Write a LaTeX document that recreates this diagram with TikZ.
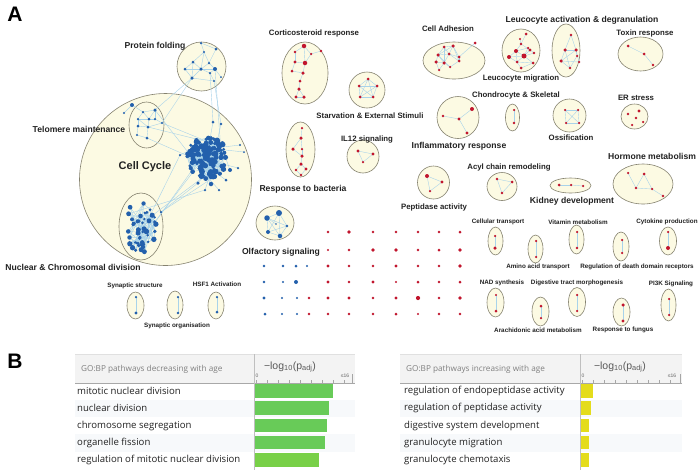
\documentclass[tikz,border=0pt]{standalone}
\usepackage{fontspec}
\setmainfont{Liberation Sans}
\newfontfamily\tabfont{Open Sans}
\usetikzlibrary{shapes.geometric}
\definecolor{cream}{HTML}{FCFAE3}
\definecolor{rim}{HTML}{85826F}
\definecolor{netblue}{HTML}{2360AC}
\definecolor{netred}{HTML}{C1152D}
\definecolor{link}{HTML}{A8D3EA}
\definecolor{ink}{HTML}{222222}
\definecolor{barg}{HTML}{68CB58}
\definecolor{barlg}{HTML}{78D048}
\definecolor{bary}{HTML}{E4DC1C}
\definecolor{headbg}{HTML}{F3F3F3}
\definecolor{headline}{HTML}{A8A8A8}
\definecolor{headtxt}{HTML}{808080}
\definecolor{rowbg}{HTML}{F7F9FB}
\pgfdeclarelayer{back}
\pgfdeclarelayer{mid}
\pgfsetlayers{back,mid,main}

\begin{document}
\begin{tikzpicture}[x=1pt,y=-1pt,every node/.style={text=ink,inner sep=0pt},
    grp/.style={ellipse,draw=rim,fill=cream,line width=.6pt},
    bd/.style={circle,fill=netblue,minimum size=#1},bd/.default=3,
    rd/.style={circle,fill=netred,minimum size=#1},rd/.default=3,
    lnk/.style={draw=link,line width=.4pt},
    tcc/.style={font=\fontsize{11}{13}\selectfont\bfseries},
    tbig/.style={font=\fontsize{8.6}{10}\selectfont\bfseries},
    tmid/.style={font=\fontsize{7.8}{9}\selectfont\bfseries},
    tsm/.style={font=\fontsize{6.3}{7}\selectfont\bfseries},
    rowtxt/.style={anchor=west,font=\tabfont\fontsize{9.6}{11}\selectfont},
    headtext/.style={anchor=west,text=headtxt,font=\tabfont\fontsize{8.2}{10}\selectfont},
    logtext/.style={text=black!65,font=\fontsize{10.5}{12}\selectfont},
    ticktext/.style={text=black!60,font=\fontsize{5}{6}\selectfont},
    tick/.style={draw=black!35,line width=.4pt}]
\useasboundingbox (0,0) rectangle (700,475);

% panel letters
\node[font=\fontsize{21}{24}\selectfont\bfseries,text=black] (panA) at (15,14) {A};
\node[font=\fontsize{21}{24}\selectfont\bfseries,text=black] (panB) at (15,361) {B};

% ---- cluster outlines
\begin{pgfonlayer}{back}
\fill[white] (0,0) rectangle (700,475);
\foreach \n/\x/\y/\w/\h in {cc/165.5/179.5/172/172, telo/146.5/125/35/46, nucl/141/226.5/44/67,
    pfold/201.5/66.5/49/49, olf/275/223/38/34, cort/305/73/46/62, bact/300.5/149.5/29/55,
    starv/367/90/36/36, il12/363/156.5/32/33, adh/454/60.5/62/37, lmig/521/50.5/38/43,
    lact/566/50.5/28/53, toxin/640.5/54/45/34, chon/512.5/117.5/14/27, infl/458/117.5/42/42,
    ossi/569.5/115.5/33/33, ers/634.5/116.5/27/25, pept/433.5/182.5/32/33, acyl/502/186.5/30/28,
    kid/570.5/185.5/41/15, horm/643/184/60/40, ctra/495.5/241/15/28, amino/535.5/249/15/28,
    vita/576.5/239.5/15/29, death/621/246.5/16/29, cyto/668/241/17/28, nad/495.5/302.5/17/29,
    dige/577/302/17/29, pik/668.5/305/15/32, arach/540.5/311.5/17/29, fung/621.5/312/17/28,
    synst/135.5/305.5/17/27, synorg/175/305/16/28, hsf/216/305.5/16/27}
  \node[grp,minimum width=\w pt,minimum height=\h pt] (\n) at (\x,\y) {};
\end{pgfonlayer}

% ---- blue networks
\foreach \n/\x/\y/\s in {p1/201/43/2.5, p2/216/49/3, p3/193/62/3, p4/204/52/2.2, p5/209/63/2.5,
    p6/185/69/3, p7/201/69/3.5, p8/215/69/4, p9/192/78/3.5, p10/210/73/2.5, p11/214/81/2.2, p12/221/77/2,
    t1/132/105/4, t2/124/113/2.2, t3/143/112/2.5, t4/155/110/3.5, t5/138/119/2.5, t6/149/119/3,
    t7/155/119/2.5, t8/138/126/3, t9/148/127/3, t10/162/123/2.2, t11/137/135/2.2, t12/147/138/3,
    ol1/267/218/5.5, ol2/279/213/6, ol3/287/226/2.8, ol4/268/232/4, ol5/280/236/4.5, ol6/276/224/1.8,
    co1/180/155/2.5, co2/240/145/2.2, co3/244/152/2, co4/213/122/3, co5/221/124/2.8, co6/198/183/3.5,
    co7/205/190/2.5, co8/211/184/4.5, co9/226/180/3, co10/230/170/4, co11/238/168/2.5, co12/219/190/2.5,
    nh1/161/212/2.5}
  \node[bd=\s] (\n) at (\x,\y) {};

% dense cell cycle core
\pgfmathsetseed{4}
\foreach \i in {1,...,120}{
  \pgfmathsetmacro\rr{sqrt(rnd)}
  \pgfmathsetmacro\aa{360*rnd}
  \pgfmathsetmacro\ss{3+3.2*rnd}
  \node[bd=\ss] (c\i) at ({207+20*\rr*cos(\aa)},{157+22*\rr*sin(\aa)}) {};
}
% nuclear division group
\foreach \i in {1,...,48}{
  \pgfmathsetmacro\rr{sqrt(rnd)}
  \pgfmathsetmacro\aa{360*rnd}
  \pgfmathsetmacro\ss{2.5+3*rnd}
  \node[bd=\ss] (n\i) at ({141+16*\rr*cos(\aa)},{227+27*\rr*sin(\aa)}) {};
}

% ---- red networks
\foreach \n/\x/\y/\s in {r1/304/46/4.5, r2/321/51/2.8, r3/295/52/2.8, r4/311/54/2.5, r5/305/63/4.5,
    r6/295/62/3.2, r7/292/71/3, r8/303/73/3.5, r9/300/81/3, r10/299/89/3.5, r11/296/97/3.2, r12/304/97/3.5,
    b1/302/128/2.5, b2/301/138/3.5, b3/293/149/3.5, b4/302/149/2.5, b5/302/156/3.5, b6/301/164/3.5,
    b7/296/170/2.8, b8/306/169/3.2, b9/301/175/2.8,
    s1/368/79/3, s2/377/86/3, s3/359/86/3, s4/373/97/3, s5/360/97/3,
    i1/358/151/3.2, i2/373/154/3.2, i3/363/162/2.5,
    a1/453/46/3.5, a2/444/47/3, a3/475/43/3, a4/438/55/3.5, a5/449/54/3, a6/459/57/3, a7/436/62/3.5,
    a8/444/63/3.5, a9/450/67/2.5, a10/459/61/3, a11/439/70/2.5,
    m1/526/34/3, m2/520/39/2.2, m3/521/44/2.8, m4/530/50/3.2, m5/516/51/4, m6/524/56/5, m7/509/57/4,
    m8/534/53/2.8, m9/517/62/3, m10/533/63/3, m11/521/68/3, m12/528/48/2.5,
    la1/571/35/2.8, la2/565/50/3.5, la3/576/50/3.5, la4/561/61/3.5, la5/577/56/2.5, la6/579/62/2.5, la7/570/68/2.8,
    x1/628/46/3, x2/644/54/3, x3/653/65/2.8,
    ch1/514/110/2.5, ch2/514/123/2.8,
    f1/472/109/4, f2/443/116/2.8, f3/459/119/3.2, f4/467/133/3.2,
    o1/565/110/2.5, o2/578/110/2.5, o3/566/123/2.5, o4/579/123/2.5,
    e1/639/111/3.2, e2/628/114/2.8, e3/636/118/2.8, e4/643/122/2.5, e5/632/125/2.5,
    pa1/427/176/4, pa2/442/182/3.2, pa3/430/191/2.5,
    ac1/497/179/2.8, ac2/512/182/3, ac3/502/193/2.8,
    k1/559/185/3, k2/571/185/2.5, k3/583/186/2.5,
    h1/628/173/2.5, h2/644/174/3, h3/636/188/2.8, h4/652/189/2.5, h5/663/196/2.8}
  \node[rd=\s] (\n) at (\x,\y) {};

% two-member groups
\foreach \n/\x/\ya/\sa/\yb/\sb in {ctra/495/236/2.5/248/3.5, amino/536/241/2.5/257/2.5,
    vita/577/232/2.5/248/2.8, death/622/240/2.5/253/2.5, cyto/668/232/2.5/248/4,
    nad/496/295/2.2/311/3, dige/577/295/2.5/311/2.5, pik/669/299/2.5/315/2.5,
    arach/541/306/3/318/2.5, fung/623/305/3.5/321/3.2}{
  \node[rd=\sa] (\n-1) at (\x,\ya) {};
  \node[rd=\sb] (\n-2) at (\x,\yb) {};
}
\foreach \n/\x/\ya/\sa/\yb/\sb in {synst/136/297/2.5/313/3.2, synorg/178/297/2.5/313/2.8, hsf/217/297/2.5/312/3}{
  \node[bd=\sa] (\n-1) at (\x,\ya) {};
  \node[bd=\sb] (\n-2) at (\x,\yb) {};
}

% ---- single-term grid
\foreach \x/\y/\s [count=\i] in {264/266/2.6, 283/266/2.6, 296/266/3, 307/266/2.2, 264/282/2.6,
    283/282/2.4, 296/282/4, 264/298/3.4, 282/298/2.2, 297/298/2.4, 265/314/3, 282/314/2.2, 297/314/2.4}
  \node[bd=\s] (gb\i) at (\x,\y) {};
\foreach \x/\y/\s [count=\i] in {328/232/2.6, 349/232/3.6, 373/232/2.6, 396/232/2.8, 418/232/2.6, 439/232/2.8, 460/232/3,
    328/250/2.2, 349/250/2.6, 373/250/3.6, 396/250/3.6, 418/250/2.6, 439/250/3, 460/250/3.6,
    328/266/3.2, 349/266/2.6, 373/266/2.8, 396/266/3.4, 418/266/2.6, 439/266/2.6, 460/266/3.6,
    328/282/3.4, 349/282/2.6, 373/282/3.2, 396/282/2.4, 418/282/3, 439/282/2.6, 460/282/3,
    309/298/2.6, 328/298/3.4, 349/298/3.2, 373/298/2.6, 396/298/3.2, 418/298/4.2, 439/298/2.6, 460/298/3.6,
    309/314/2.6, 328/314/2.6, 349/314/2.6, 373/314/2.6, 396/314/3, 418/314/2.4, 439/314/2.6, 460/314/2.6}
  \node[rd=\s] (gr\i) at (\x,\y) {};

% ---- links
\begin{pgfonlayer}{mid}
\foreach \a/\b in {p1/p4, p1/p2, p4/p3, p4/p5, p3/p6, p3/p7, p6/p7, p7/p8, p7/p9, p6/p9, p5/p7, p5/p8,
    p8/p10, p7/p10, p10/p11, p9/p11, p2/p5, p4/p7, p3/p9, p8/p12,
    t1/t2, t1/t3, t3/t4, t3/t5, t3/t6, t4/t6, t5/t6, t5/t8, t6/t7, t6/t9, t8/t9, t7/t10, t9/t10,
    t8/t11, t9/t12, t11/t12, t5/t9, t4/t7,
    p9/t4, p9/t10, p10/co4, p11/co5, p8/c12, t12/c3, t9/c8, t10/c20, t4/c31,
    nh1/co6, nh1/c5, n3/c9, n7/c14, n11/co1, n15/c22, n2/co7,
    co1/c1, co2/c2, co3/c6, co4/c7, co5/c10, co6/c11, co7/c13, co8/c15, co9/c16, co10/c17, co11/c18, co12/c19,
    ol1/ol2, ol1/ol4, ol1/ol5, ol2/ol3, ol2/ol5, ol3/ol4, ol3/ol5, ol4/ol5, ol1/ol3, ol2/ol4, ol6/ol1,
    r1/r3, r1/r4, r1/r5, r4/r2, r3/r6, r6/r5, r5/r8, r6/r7, r7/r8, r8/r9, r9/r10, r10/r11, r10/r12, r11/r12, r4/r5,
    b1/b2, b2/b3, b2/b4, b4/b5, b3/b5, b5/b6, b6/b7, b6/b8, b7/b9, b8/b9,
    s1/s2, s1/s3, s1/s4, s1/s5, s2/s3, s2/s4, s2/s5, s3/s4, s3/s5, s4/s5,
    i1/i2, i2/i3, i1/i3,
    a1/a2, a1/a5, a1/a6, a1/a4, a2/a4, a2/a5, a4/a5, a4/a7, a4/a8, a5/a6, a5/a8, a5/a10, a6/a10, a6/a3,
    a7/a8, a7/a11, a8/a9, a8/a11, a9/a10, a2/a8, a1/a10, a4/a9,
    m1/m3, m2/m3, m3/m4, m3/m5, m4/m6, m5/m6, m5/m7, m6/m7, m6/m8, m6/m9, m6/m10, m7/m9, m9/m11,
    m10/m11, m12/m6, m12/m5, m4/m8, m9/m10, m5/m9,
    la1/la2, la1/la3, la2/la3, la2/la4, la2/la7, la3/la5, la3/la6, la4/la6, la4/la7, la5/la7, la3/la4,
    x1/x2, x2/x3, ch1/ch2, f2/f3, f3/f1, f3/f4,
    o1/o2, o1/o3, o1/o4, o2/o3, o2/o4, o3/o4,
    pa1/pa2, pa2/pa3, pa1/pa3, ac1/ac2, ac2/ac3, ac1/ac3, k1/k2, k2/k3,
    h1/h3, h2/h3, h2/h4, h3/h4, h4/h5,
    ctra-1/ctra-2, amino-1/amino-2, vita-1/vita-2, death-1/death-2, cyto-1/cyto-2, nad-1/nad-2,
    dige-1/dige-2, pik-1/pik-2, arach-1/arach-2, fung-1/fung-2,
    synst-1/synst-2, synorg-1/synorg-2, hsf-1/hsf-2}
  \draw[lnk] (\a.center)--(\b.center);
\foreach \i in {1,...,120}{
  \pgfmathtruncatemacro\j{random(1,120)}
  \pgfmathtruncatemacro\k{random(1,120)}
  \draw[lnk] (c\i.center)--(c\j.center) (c\i.center)--(c\k.center);
}
\foreach \i in {1,...,48}{
  \pgfmathtruncatemacro\j{random(1,48)}
  \pgfmathtruncatemacro\k{random(1,48)}
  \draw[lnk] (n\i.center)--(n\j.center) (n\i.center)--(n\k.center);
}
\end{pgfonlayer}

% ---- labels
\node[tcc] (lcc) at (145,167) {Cell Cycle};
\node[tbig] (lpf) at (155,46) {Protein folding};
\node[tbig] (ltm) at (79,129) {Telomere maintenance};
\node[tbig] (lnc) at (73,267) {Nuclear \& Chromosomal division};
\node[tbig] (lol) at (281,252) {Olfactory signaling};
\node[tbig] (lrb) at (303,189) {Response to bacteria};
\node[tmid] (lcr) at (314,33) {Corticosteroid response};
\node[tmid] (lst) at (370,116) {Starvation \& External Stimuli};
\node[tmid] (lil) at (367,139) {IL12 signaling};
\node[tmid] (lca) at (448,29) {Cell Adhesion};
\node[tbig] (lla) at (582,20) {Leucocyte activation \& degranulation};
\node[tmid] (llm) at (521,78) {Leucocyte migration};
\node[tmid] (ltx) at (645,33) {Toxin response};
\node[tmid] (lch) at (516,95) {Chondrocyte \& Skeletal};
\node[tbig] (lif) at (459,146) {Inflammatory response};
\node[tmid] (los) at (571,138) {Ossification};
\node[tmid] (ler) at (636,98) {ER stress};
\node[tmid] (lpa) at (434,207) {Peptidase activity};
\node[tmid] (lac) at (509,167) {Acyl chain remodeling};
\node[tbig] (lkd) at (572,201) {Kidney development};
\node[tbig] (lhm) at (652,156) {Hormone metabolism};
\node[tsm] (lct) at (498,222) {Cellular transport};
\node[tsm] (lat) at (538,267) {Amino acid transport};
\node[tsm] (lvm) at (578,222) {Vitamin metabolism};
\node[tsm] (ldd) at (637,267) {Regulation of death domain receptors};
\node[tsm] (lcp) at (667,222) {Cytokine production};
\node[tsm] (lns) at (502,283) {NAD synthesis};
\node[tsm] (ldt) at (577,283) {Digestive tract morphogenesis};
\node[tsm] (lpi) at (671,284) {PI3K Signaling};
\node[tsm] (laa) at (538,330) {Arachidonic acid metabolism};
\node[tsm] (lrf) at (623,330) {Response to fungus};
\node[tsm] (lss) at (135,286) {Synaptic structure};
\node[tsm] (lso) at (177,326) {Synaptic organisation};
\node[tsm] (lhs) at (217,284) {HSF1 Activation};

% ---- panel B: decreasing
\fill[headbg] (75,354) rectangle (355,383);
\draw[draw=black!12] (75,354)--(355,354);
\foreach \i in {2,4}{
  \fill[rowbg] (75,{391+17.3*(\i-1)-8.6}) rectangle (355,{391+17.3*(\i-1)+8.6});
}
\foreach \t/\e/\c [count=\i] in {mitotic nuclear division/333/barg, nuclear division/329/barg,
    chromosome segregation/327/barg, organelle fission/325/barg,
    regulation of mitotic nuclear division/319/barlg}{
  \pgfmathsetmacro\yc{391+17.3*(\i-1)}
  \fill[\c] (254,\yc-7) rectangle (\e,\yc+6.5);
  \node[rowtxt] (dec\i) at (77,\yc) {\t};
}
\draw[draw=headline,line width=.8pt] (75,383)--(355,383);
\draw[draw=black!25] (254,354)--(254,470);
\foreach \k in {0,...,8} \draw[tick] ({256+11*\k},380)--++(0,3);
\draw[tick] (352,374)--(352,383);
\node[headtext] (hdec) at (81,369) {GO:BP pathways decreasing with age};
\node[logtext] (ldec) at (290,367) {−log\textsubscript{10}(p\textsubscript{adj})};
\node[ticktext] (zdec) at (257,376) {0};
\node[ticktext] (mdec) at (345,376) {≤16};

% ---- panel B: increasing
\fill[headbg] (400,354) rectangle (682,383);
\draw[draw=black!12] (400,354)--(682,354);
\foreach \i in {2,4}{
  \fill[rowbg] (400,{391+17.3*(\i-1)-8.6}) rectangle (682,{391+17.3*(\i-1)+8.6});
}
\foreach \t/\e [count=\i] in {regulation of endopeptidase activity/593, regulation of peptidase activity/591,
    digestive system development/589, granulocyte migration/589, granulocyte chemotaxis/589}{
  \pgfmathsetmacro\yc{391+17.3*(\i-1)}
  \fill[bary] (580,\yc-7) rectangle (\e,\yc+6.5);
  \node[rowtxt] (inc\i) at (404,\yc) {\t};
}
\draw[draw=headline,line width=.8pt] (400,383)--(682,383);
\draw[draw=black!25] (580,354)--(580,470);
\foreach \k in {0,...,8} \draw[tick] ({582+11*\k},380)--++(0,3);
\draw[tick] (680,374)--(680,383);
\node[headtext] (hinc) at (406,369) {GO:BP pathways increasing with age};
\node[logtext] (linc) at (620,367) {−log\textsubscript{10}(p\textsubscript{adj})};
\node[ticktext] (zinc) at (583,376) {0};
\node[ticktext] (minc) at (672,376) {≤16};
\end{tikzpicture}
\end{document}
